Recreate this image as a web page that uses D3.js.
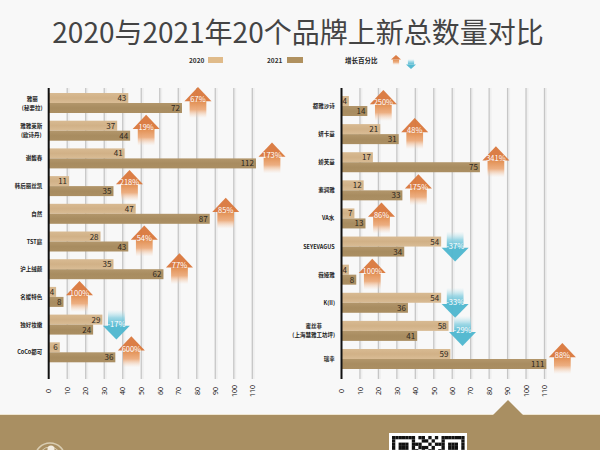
<!DOCTYPE html>
<html>
<head>
<meta charset="utf-8">
<script src="https://cdn.jsdelivr.net/npm/d3@7/dist/d3.min.js"></script>
<style>
html,body{margin:0;padding:0;background:#f8f8f8;}
svg{display:block;}
text{font-family:"Noto Sans CJK SC","Noto Sans",sans-serif;}
</style>
</head>
<body>
<svg id="chart" width="600" height="450"></svg>
<script>
// Brand lists and yearly new-product counts, one panel per list
const leftBrands = ["雅丽\n(秘要拉)", "雅雅莱斯\n(欧诗丹)", "谢馥春", "韩后丽丝凯", "自然", "TST庭", "沪上绒颜", "名媛特色", "独好妆嫩", "CoCo都可"];
const left2020 = [43, 37, 41, 11, 47, 28, 35, 4, 29, 6];
const left2021 = [72, 44, 112, 35, 87, 43, 62, 8, 24, 36];
const leftGrowth = ["67%", "19%", "173%", "218%", "85%", "54%", "77%", "100%", "-17%", "600%"];

const rightBrands = ["都雅沙诗", "妍卡蔓", "娇芙蔓", "素润雅", "VA水", "SEYEVAGUS", "薇娅雅", "K(II)", "蜜丝菲\n(上海慧雅工坊坪)", "瑞幸"];
const right2020 = [4, 21, 17, 12, 7, 54, 4, 54, 58, 59];
const right2021 = [14, 31, 75, 33, 13, 34, 8, 36, 41, 111];
const rightGrowth = ["250%", "48%", "341%", "175%", "86%", "-37%", "100%", "-33%", "-29%", "88%"];

const axisTicks = [0, 10, 20, 30, 40, 50, 60, 70, 80, 90, 100, 110];
const titleText = "2020与2021年20个品牌上新总数量对比";
const colors = {y2020: "#e0bb8a", y2021: "#b0915f", up: "#d9773c", down: "#4db6cf", band: "#a98f62"};

// Footer QR pattern, top rows only since the page cuts it off
const qrRows = [
  "1111111011010101111111",
  "1000001001101001000001",
  "1011101110010111011101",
  "1011101011101001011101",
  "1011101101011011011101",
  "1000001010110101000001",
  "1111111010101011111111"
];

const svg = d3.select("#chart");
const defs = svg.append("defs");

function fade(id, stops) {
  const g = defs.append("linearGradient").attr("id", id).attr("x1", 0).attr("x2", 0).attr("y1", 0).attr("y2", 1);
  stops.forEach(s => g.append("stop").attr("offset", s[0]).attr("stop-color", s[1]).attr("stop-opacity", s[2]));
}
fade("upBody", [[0, "#e28f52", 1], [0.5, "#ecab7c", 0.95], [1, "#f6d5bc", 0]]);
fade("downBody", [[0, "#bfe6ee", 0], [0.5, "#8fd2e2", 0.85], [1, "#56bad2", 1]]);
fade("bar2020", [[0, "#d8ba92", 1], [0.5, "#d1b187", 1], [1, "#d9bc95", 1]]);
fade("bar2021", [[0, "#b2966b", 1], [0.5, "#a88c60", 1], [1, "#ab8f63", 1]]);

svg.append("rect").attr("width", 600).attr("height", 450).attr("fill", "#f8f8f8");

svg.append("text").attr("x", 298).attr("y", 43).attr("text-anchor", "middle")
  .attr("font-size", 28).attr("fill", "#444").text(titleText);

// Arrow glyph with its tip at the local origin; dir 1 points up, -1 points down
function arrow(parent, cx, tipY, dir, w, h, label) {
  const g = parent.append("g").attr("transform", `translate(${cx},${tipY})`);
  const headH = h * 0.46, halfHead = w / 2, halfBody = w * 0.31;
  const bodyTop = dir * headH, bodyEnd = dir * h;
  g.append("rect").attr("x", -halfBody).attr("width", halfBody * 2)
    .attr("y", Math.min(bodyTop, bodyEnd)).attr("height", h - headH)
    .attr("fill", dir > 0 ? "url(#upBody)" : "url(#downBody)");
  g.append("path").attr("d", d3.line()([[0, 0], [halfHead, bodyTop], [-halfHead, bodyTop]]) + "Z")
    .attr("fill", dir > 0 ? colors.up : colors.down).attr("opacity", 0.95);
  if (label) {
    g.append("text").attr("text-anchor", "middle").attr("y", dir * headH + 1)
      .attr("font-size", 7.5).attr("fill", "#fff").text(label);
  }
}

function panel(cfg) {
  const x = d3.scaleLinear().domain([0, 110]).range([cfg.x0, cfg.x1]);
  const y = d3.scaleBand().domain(cfg.brands).range([cfg.top, cfg.bottom]).paddingInner(1 - 20 / cfg.step).paddingOuter(0);
  const g = svg.append("g");

  // Vertical gridlines with a soft halo
  g.selectAll("line.halo").data(axisTicks.slice(1)).join("line")
    .attr("x1", d => x(d) + 1.5).attr("x2", d => x(d) + 1.5).attr("y1", 88).attr("y2", 379)
    .attr("stroke", "#efefef").attr("stroke-width", 2);
  g.selectAll("line.grid").data(axisTicks.slice(1)).join("line")
    .attr("x1", d => x(d)).attr("x2", d => x(d)).attr("y1", 88).attr("y2", 379)
    .attr("stroke", "#c6c6c6").attr("stroke-width", 1.3);

  const rows = cfg.brands.map((b, i) => ({b, a: cfg.a[i], c: cfg.c[i], p: cfg.p[i]}));
  const h = y.bandwidth() / 2;

  g.selectAll("rect.a").data(rows).join("rect")
    .attr("x", cfg.x0).attr("y", d => y(d.b)).attr("height", h)
    .attr("width", d => x(d.a) - cfg.x0).attr("fill", "url(#bar2020)");
  g.selectAll("rect.c").data(rows).join("rect")
    .attr("x", cfg.x0).attr("y", d => y(d.b) + h).attr("height", h)
    .attr("width", d => x(d.c) - cfg.x0).attr("fill", "url(#bar2021)");

  const valueLabel = (val, off) => g.selectAll(null).data(rows).join("text")
    .attr("x", d => x(d[val]) - 2).attr("y", d => y(d.b) + off)
    .attr("text-anchor", "end").attr("font-size", 8).attr("fill", "#2e281e").text(d => d[val]);
  valueLabel("a", 8);
  valueLabel("c", 18);

  // Growth arrows sit just past the longer bar of each pair
  rows.forEach(d => {
    const end = x(Math.max(d.a, d.c));
    if (d.c >= d.a) arrow(g, end + 16, y(d.b) - 6, 1, 27, 31, d.p);
    else arrow(g, end + 14, y(d.b) + 25, -1, 27, 30, d.p);
  });

  // Brand names, right aligned against the axis with stacked lines centred
  rows.forEach(d => {
    const lines = d.b.split("\n");
    const t = g.append("text").attr("font-size", 5.5).attr("font-weight", 700).attr("fill", "#222");
    const mid = y(d.b) + 10;
    lines.forEach((s, i) => t.append("tspan").attr("x", 0)
      .attr("y", mid + 2 + (i - (lines.length - 1) / 2) * 9).attr("text-anchor", "middle").text(s));
    const w = t.node().getBBox().width;
    t.selectAll("tspan").attr("x", cfg.labelEnd - w / 2);
  });

  const axis = d3.axisBottom(x).tickValues(axisTicks).tickSize(0).tickFormat(d3.format("d"));
  const ag = g.append("g").attr("transform", "translate(0,383)").call(axis);
  ag.select(".domain").remove();
  ag.selectAll("text").attr("transform", "rotate(-90)").attr("x", -8).attr("y", 0).attr("dy", "0.32em")
    .attr("text-anchor", "middle").attr("font-size", 7).attr("fill", "#222")
    .style("font-family", '"Noto Sans",sans-serif');

  g.append("line").attr("x1", cfg.x0).attr("x2", cfg.x0).attr("y1", 88).attr("y2", 379)
    .attr("stroke", "#111").attr("stroke-width", 2);
}

panel({brands: leftBrands, a: left2020, c: left2021, p: leftGrowth,
  x0: 48.7, x1: 252.3, top: 93, bottom: 362.3, step: 27.7, labelEnd: 42.5});
panel({brands: rightBrands, a: right2020, c: right2021, p: rightGrowth,
  x0: 341.5, x1: 544.5, top: 96, bottom: 369, step: 28.1, labelEnd: 335});

// Legend row
const legend = svg.append("g").attr("font-size", 6.5).attr("fill", "#333");
legend.append("text").attr("x", 189).attr("y", 62.5).attr("font-weight", 700).text("2020");
legend.append("rect").attr("x", 208).attr("y", 57).attr("width", 15).attr("height", 6).attr("fill", colors.y2020);
legend.append("text").attr("x", 267).attr("y", 62.5).attr("font-weight", 700).text("2021");
legend.append("rect").attr("x", 287).attr("y", 57).attr("width", 16).attr("height", 6).attr("fill", colors.y2021);
legend.append("text").attr("x", 345).attr("y", 63).attr("font-size", 6.5).attr("font-weight", 700).attr("fill", "#222").text("增长百分比");
arrow(svg, 396, 55, 1, 10, 10);
arrow(svg, 411, 69, -1, 10, 10);

// Footer band with its pointer and the partly visible logo and QR code
svg.append("rect").attr("x", 0).attr("y", 414).attr("width", 600).attr("height", 2).attr("fill", "#efe6d2");
svg.append("rect").attr("x", 0).attr("y", 415).attr("width", 600).attr("height", 35).attr("fill", colors.band);
svg.append("path").attr("d", "M493,415L508,400L523,415Z").attr("fill", colors.band);
svg.append("circle").attr("cx", 50).attr("cy", 458).attr("r", 15).attr("fill", "none").attr("stroke", "#d9cdb2").attr("stroke-width", 1.5);
svg.append("circle").attr("cx", 50).attr("cy", 458).attr("r", 11).attr("fill", "none").attr("stroke", "#d9cdb2").attr("stroke-width", 1);
svg.append("circle").attr("cx", 51).attr("cy", 449).attr("r", 3.5).attr("fill", "#f2ece0");
svg.append("rect").attr("x", 389).attr("y", 433).attr("width", 78).attr("height", 17).attr("fill", "#fff");
const cell = 3.3;
qrRows.forEach((row, r) => row.split("").forEach((v, c) => {
  if (v === "1") svg.append("rect").attr("x", 392 + c * cell).attr("y", 436 + r * cell)
    .attr("width", cell).attr("height", cell).attr("fill", "#111");
}));
</script>
</body>
</html>
